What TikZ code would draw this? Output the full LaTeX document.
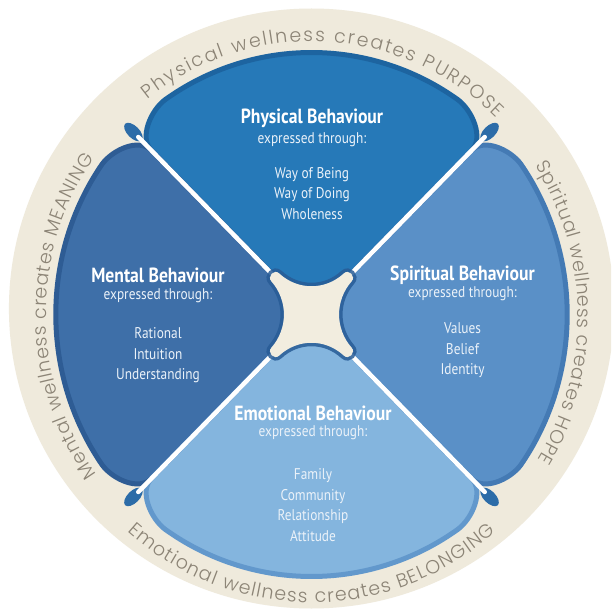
\documentclass[tikz,border=0pt]{standalone}
\usepackage{fontspec}
\usepackage{xcolor}
\definecolor{ring_beige}{RGB}{239,234,220}
\definecolor{ring_text}{RGB}{140,132,118}
\definecolor{phys_fill}{RGB}{38,121,184}
\definecolor{phys_edge}{RGB}{29,100,160}
\definecolor{ment_fill}{RGB}{62,111,168}
\definecolor{ment_edge}{RGB}{46,92,148}
\definecolor{spir_fill}{RGB}{90,144,199}
\definecolor{spir_edge}{RGB}{68,122,180}
\definecolor{emo_fill}{RGB}{132,181,222}
\definecolor{emo_edge}{RGB}{98,152,204}
\definecolor{drop_blue}{RGB}{44,108,168}
\definecolor{hub_beige}{RGB}{242,237,223}
\definecolor{hub_edge}{RGB}{40,92,150}
\definecolor{list_white}{RGB}{235,242,249}
\newfontfamily\quadfont{PT Sans}[FakeStretch=0.86]
\newfontfamily\ringfont{Poppins Light}
\newcommand{\ringstyle}{\ringfont\fontsize{19}{19}\selectfont\color{ring_text}}
\usepackage{tikz}
\usetikzlibrary{decorations.text}

\begin{document}
\begin{tikzpicture}[x=0.976pt, y=1pt,
  quadtitle/.style={text=white, font=\quadfont\bfseries\fontsize{20.5}{24}\selectfont},
  quadsub/.style={text=list_white, font=\quadfont\fontsize{15.5}{18}\selectfont},
  quadlist/.style={text=list_white, align=center, font=\quadfont\fontsize{15.5}{20.5}\selectfont},
  wedgeshape/.style={line width=5pt, line join=round},
  spoke/.style={draw=white, line width=4.5pt, line cap=round},
  ringtext/.style={decorate, decoration={text along path, text align=fit to path, text={#1}}}]
\useasboundingbox (-311.5pt,-301.5pt) rectangle (299.5pt,314.5pt);
\clip (-311.5pt,-301.5pt) rectangle (299.5pt,314.5pt);
\fill[white] (-311.5pt,-301.5pt) rectangle (299.5pt,314.5pt);

\fill[ring_beige] (0,6) ellipse[x radius=310, y radius=300];

\foreach \c/\fc/\ec in {90/phys_fill/phys_edge, 180/ment_fill/ment_edge, 0/spir_fill/spir_edge, 270/emo_fill/emo_edge}
  \filldraw[wedgeshape, fill=\fc, draw=\ec] (0,0) -- ({\c+45}:232) .. controls ({\c+45}:250) and ({\c+39}:262) .. ({\c+35}:262)
    arc[start angle={\c+35}, end angle={\c-35}, radius=262] .. controls ({\c-39}:262) and ({\c-45}:250) .. ({\c-45}:232) -- cycle;

\coordinate (hub) at (0,0);
\foreach \a in {45,135,225,315} {
  \fill[drop_blue, rotate around={\a:(\a:258)}] (\a:258) ellipse[x radius=12, y radius=6];
  \coordinate (tip_\a) at (\a:251);
  \draw[spoke] (tip_\a) -- (hub);
}

\path[fill=hub_beige, preaction={draw=hub_edge, line width=7pt, opacity=0.85}]
  (-33,41) .. controls (-14,24) and (14,24) .. (33,41)
  .. controls (38,46) and (46,38) .. (41,33)
  .. controls (24,14) and (24,-14) .. (41,-33)
  .. controls (46,-38) and (38,-46) .. (33,-41)
  .. controls (14,-24) and (-14,-24) .. (-33,-41)
  .. controls (-38,-46) and (-46,-38) .. (-41,-33)
  .. controls (-24,-14) and (-24,14) .. (-41,33)
  .. controls (-46,38) and (-38,46) .. (-33,41) -- cycle;

\node[quadtitle] (phys_title) at (0.5pt,196.5pt) {Physical Behaviour};
\node[quadsub] (phys_sub) at (0.5pt,175pt) {expressed through:};
\node[quadlist] (phys_list) at (0.5pt,121pt) {Way of Being\\Way of Doing\\Wholeness};

\node[quadtitle] (ment_title) at (-153.5pt,39.5pt) {Mental Behaviour};
\node[quadsub] (ment_sub) at (-153.5pt,18.5pt) {expressed through:};
\node[quadlist] (ment_list) at (-153.5pt,-41pt) {Rational\\Intuition\\Understanding};

\node[quadtitle] (spir_title) at (151pt,39.5pt) {Spiritual Behaviour};
\node[quadsub] (spir_sub) at (151pt,20.5pt) {expressed through:};
\node[quadlist] (spir_list) at (151pt,-36pt) {Values\\Belief\\Identity};

\node[quadtitle] (emo_title) at (1.5pt,-98.5pt) {Emotional Behaviour};
\node[quadsub] (emo_sub) at (1.5pt,-118.5pt) {expressed through:};
\node[quadlist] (emo_list) at (1.5pt,-190.5pt) {Family\\Community\\Relationship\\Attitude};

\path[ringtext={|\ringstyle|Physical wellness creates PURPOSE}] (128:273) arc[start angle=128, end angle=46, radius=273];
\path[ringtext={|\ringstyle|Spiritual wellness creates HOPE}] (33:273) arc[start angle=33, end angle=-32, radius=273];
\path[ringtext={|\ringstyle|Mental wellness creates MEANING}] (216:272) arc[start angle=216, end angle=145, radius=272];
\path[ringtext={|\ringstyle|Emotional wellness creates BELONGING}] (229:288) arc[start angle=229, end angle=311, radius=288];

\end{tikzpicture}
\end{document}
